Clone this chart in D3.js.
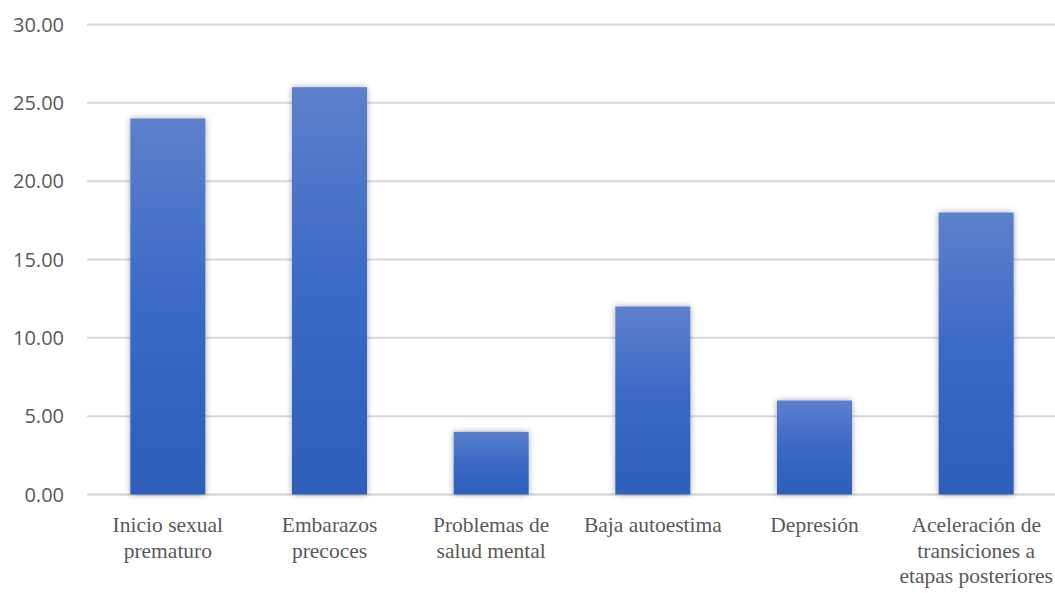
<!DOCTYPE html>
<html><head><meta charset="utf-8">
<script src="https://cdn.jsdelivr.net/npm/d3@7"></script>
<style>body{margin:0;background:#fff}svg{display:block}
.xl{font-family:"Liberation Serif","Times New Roman",serif;font-size:21.5px;fill:#595959}
.yl{font-family:"Open Sans","Liberation Sans",sans-serif;font-size:20px;fill:#595959}
</style>
</head><body>
<script>
const categories = [
  ["Inicio sexual", "prematuro"],
  ["Embarazos", "precoces"],
  ["Problemas de", "salud mental"],
  ["Baja autoestima"],
  ["Depresión"],
  ["Aceleración de", "transiciones a", "etapas posteriores"]
];
const values = [24, 26, 4, 12, 6, 18];
const yTicks = [0, 5, 10, 15, 20, 25, 30];

const W = 1055, H = 593;
const svg = d3.select("body").append("svg").attr("width", W).attr("height", H);
const defs = svg.append("defs");
const grad = defs.append("linearGradient").attr("id", "g").attr("x1", 0).attr("y1", 0).attr("x2", 0).attr("y2", 1);
grad.append("stop").attr("offset", "0%").attr("stop-color", "#5c80cb");
grad.append("stop").attr("offset", "50%").attr("stop-color", "#3a69c6");
grad.append("stop").attr("offset", "100%").attr("stop-color", "#2d5eba");
const f = defs.append("filter").attr("id", "sh").attr("x", "-30%").attr("y", "-30%").attr("width", "160%").attr("height", "160%");
f.append("feDropShadow").attr("dx", 0).attr("dy", 0).attr("stdDeviation", 3).attr("flood-color", "#000").attr("flood-opacity", 0.35);

const x = d3.scaleBand().domain(d3.range(categories.length)).range([87, 1057]).paddingInner(0.536).paddingOuter(0.268);
const y = d3.scaleLinear().domain([0, 30]).range([494.5, 24.5]);

const grid = svg.append("g");
grid.selectAll("line").data(yTicks).join("line")
  .attr("x1", 87).attr("x2", W).attr("y1", d => y(d)).attr("y2", d => y(d))
  .attr("stroke", "#d9d9d9").attr("stroke-width", d => d === 0 ? 2.5 : 2);

svg.append("g").selectAll("text").data(yTicks).join("text")
  .attr("class", "yl")
  .attr("x", 64).attr("y", d => y(d)).attr("dy", "0.35em").attr("text-anchor", "end")
  .text(d => d3.format(".2f")(d));

svg.append("g").selectAll("rect").data(values).join("rect")
  .attr("x", (d, i) => x(i)).attr("width", x.bandwidth())
  .attr("y", d => y(d)).attr("height", d => y(0) - y(d))
  .attr("fill", "url(#g)").attr("filter", "url(#sh)");

const lab = svg.append("g").selectAll("text").data(categories).join("text")
  .attr("class", "xl")
  .attr("text-anchor", "middle")
  .attr("transform", (d, i) => `translate(${x(i) + x.bandwidth() / 2},532)`);
lab.selectAll("tspan").data(d => d).join("tspan")
  .attr("x", 0).attr("dy", (d, j) => j === 0 ? 0 : 25.5).text(d => d);
</script>
</body></html>
